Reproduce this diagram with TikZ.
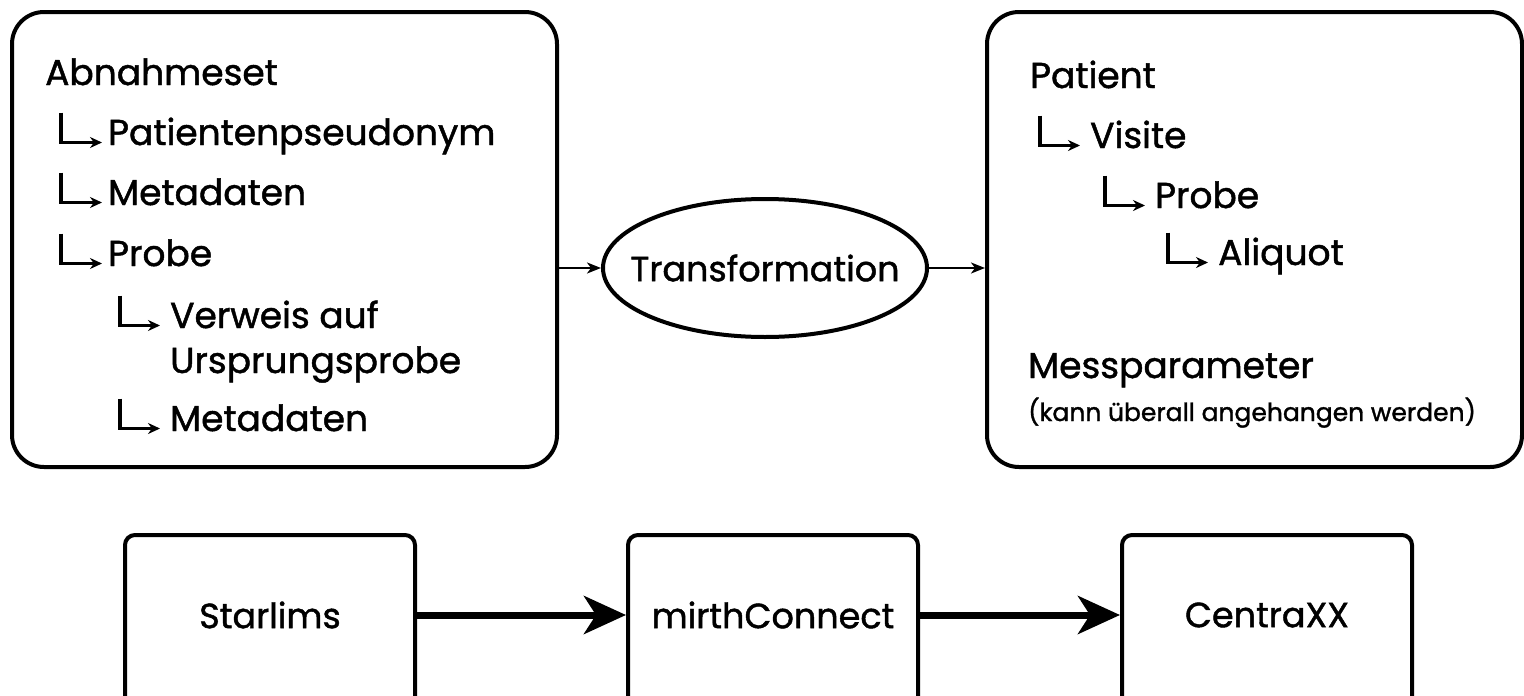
\documentclass[tikz,border=0pt]{standalone}
\usepackage{fontspec}
\setmainfont{Poppins}[FakeBold=1.3]
\usetikzlibrary{arrows.meta,shapes.geometric,calc}
\begin{document}
\begin{tikzpicture}[x=1pt,y=-1pt,
  frame/.style={draw, line width=4pt, rounded corners=32pt, anchor=north west},
  bbox/.style={draw, line width=4pt, rounded corners=10pt, minimum width=290pt, minimum height=200pt},
  lbl/.style={font=\fontsize{36}{40}\selectfont, anchor=base west, inner sep=0pt, text height=0.75em, text depth=0.25em},
  smalllbl/.style={font=\fontsize{25}{28}\selectfont, anchor=base west, inner sep=0pt},
  ctext/.style={font=\fontsize{35}{40}\selectfont, inner sep=0pt},
  tree/.style={line width=3.5pt, -{Stealth[length=12pt,width=11pt]}},
  thinarrow/.style={line width=2pt, -{Stealth[length=14pt,width=11pt,inset=4pt]}},
  bigarrow/.style={line width=7pt, -{Stealth[length=42pt,width=38pt,inset=12pt]}},
]
\useasboundingbox (0,0) rectangle (1524,696);
\clip (0,0) rectangle (1524,696);
% top frames
\node[frame, minimum width=545pt, minimum height=455pt] (lbox) at (10,10) {};
\node[frame, minimum width=535pt, minimum height=455pt] (rbox) at (985,10) {};
% left tree
\node[lbl] (abn) at (45,85) {Abnahmeset};
\node[lbl] (pat) at (108,145) {Patientenpseudonym};
\node[lbl] (met1) at (108,205) {Metadaten};
\node[lbl] (prb) at (108,266) {Probe};
\node[lbl] (ver) at (170,328) {Verweis auf};
\node[lbl] (urs) at (170,373) {Ursprungsprobe};
\node[lbl] (met2) at (170,431) {Metadaten};
\foreach \n in {pat,met1,prb}{
  \draw[tree] ([shift={(-47,-30)}]\n.west) |- ([xshift=-6]\n.west);
}
\foreach \n in {ver,met2}{
  \draw[tree] ([shift={(-50,-30)}]\n.west) |- ([xshift=-10]\n.west);
}
% right tree
\node[lbl] (rpat) at (1030,88) {Patient};
\node[lbl] (vis) at (1090,148) {Visite};
\node[lbl] (rprb) at (1155,208) {Probe};
\node[lbl] (ali) at (1218,265) {Aliquot};
\node[lbl] (mess) at (1028,378) {Messparameter};
\node[smalllbl] (hint) at (1028,421) {(kann überall angehangen werden)};
\foreach \n in {vis,rprb,ali}{
  \draw[tree] ([shift={(-50,-30)}]\n.west) |- ([xshift=-10]\n.west);
}
% transformation
\node[draw, ellipse, line width=4pt, minimum width=324pt, minimum height=138pt, inner sep=0pt] (tr) at (765,268) {};
\node[ctext] (trt) at (tr.center) {Transformation};
\draw[thinarrow] (lbox.east |- tr.west) -- (tr.west);
\draw[thinarrow] (tr.east) -- (rbox.west |- tr.east);
% bottom chain
\node[bbox] (sl) at (270,635) {};
\node[bbox] (mc) at (773,635) {};
\node[bbox] (cx) at (1267,635) {};
\node[ctext] (slt) at (270,615) {Starlims};
\node[ctext] (mct) at (773,615) {mirthConnect};
\node[ctext] (cxt) at (1267,615) {CentraXX};
\draw[bigarrow] (sl.east |- slt) -- (mc.west |- mct);
\draw[bigarrow] (mc.east |- mct) -- (cx.west |- cxt);
\end{tikzpicture}
\end{document}
